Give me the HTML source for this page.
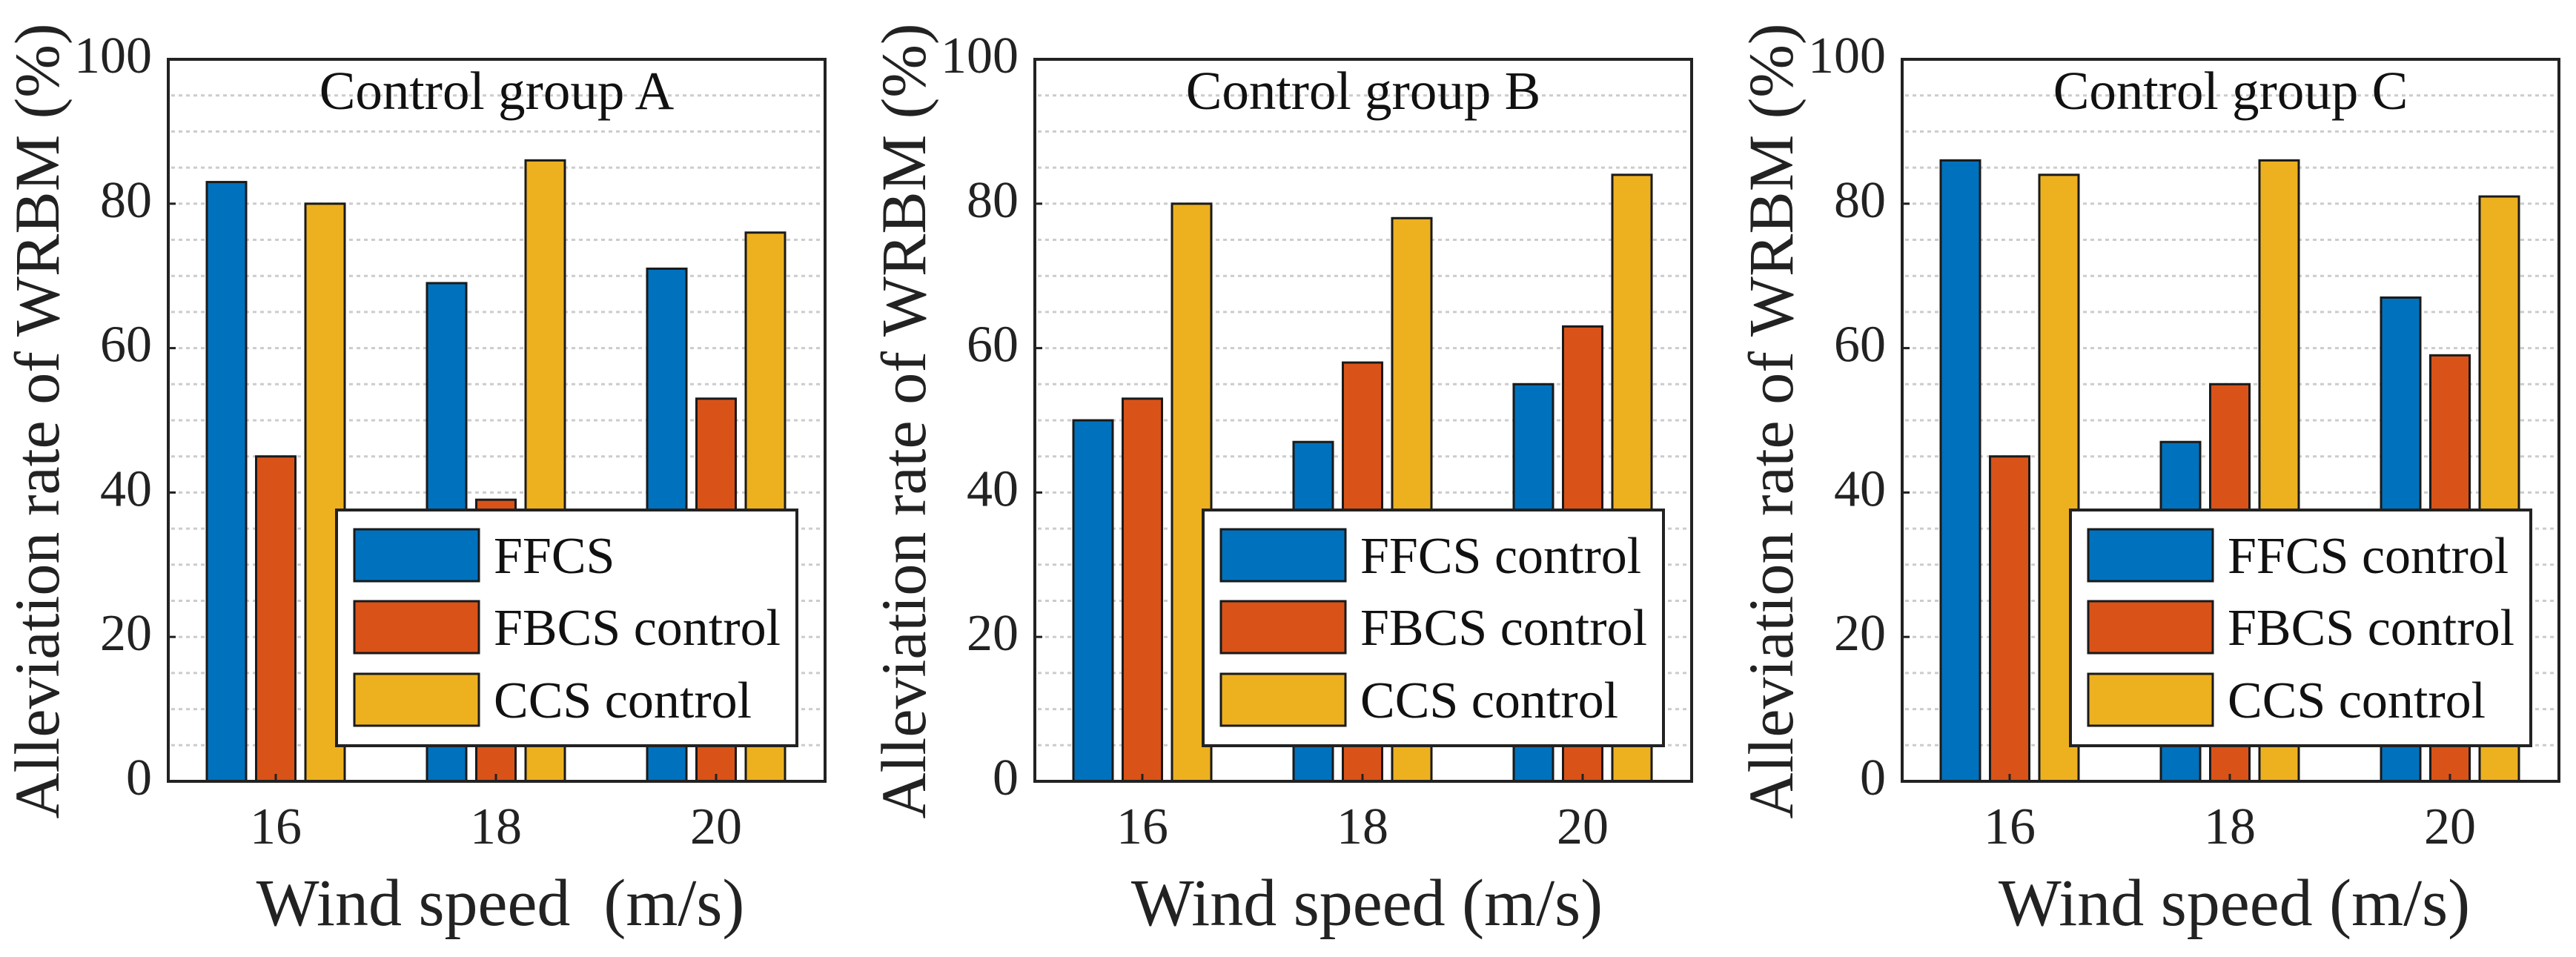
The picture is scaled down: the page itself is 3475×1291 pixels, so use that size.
<!DOCTYPE html>
<html><head><meta charset="utf-8"><style>
html,body{margin:0;padding:0;background:#fff;}
svg{display:block;font-family:"Liberation Serif",serif;}
</style></head><body>
<svg id="chart" width="3475" height="1291" viewBox="0 0 3475 1291" xmlns="http://www.w3.org/2000/svg"></svg>
<script>
const categories = ["16", "18", "20"];
const seriesNames = ["FFCS", "FBCS", "CCS"];
const panelTitles = ["Control group A", "Control group B", "Control group C"];
const legendLabelsA = ["FFCS", "FBCS control", "CCS control"];
const legendLabelsB = ["FFCS control", "FBCS control", "CCS control"];
const legendLabelsC = ["FFCS control", "FBCS control", "CCS control"];
const ffcsA = [83, 69, 71];
const fbcsA = [45, 39, 53];
const ccsA = [80, 86, 76];
const ffcsB = [50, 47, 55];
const fbcsB = [53, 58, 63];
const ccsB = [80, 78, 84];
const ffcsC = [86, 47, 67];
const fbcsC = [45, 55, 59];
const ccsC = [84, 86, 81];
const yTicks = [0, 20, 40, 60, 80, 100];
const xLabels = ["Wind speed  (m/s)", "Wind speed (m/s)", "Wind speed (m/s)"];

const colors = ["#0072BD", "#D95319", "#EDB120"];
const svg = document.getElementById('chart');
const NS = "http://www.w3.org/2000/svg";
function mk(tag, attrs, parent) {
  const e = document.createElementNS(NS, tag);
  for (const k in attrs) e.setAttribute(k, attrs[k]);
  (parent || svg).appendChild(e);
  return e;
}
const panels = [
  {left: 227, data: [ffcsA, fbcsA, ccsA], legend: legendLabelsA},
  {left: 1396, data: [ffcsB, fbcsB, ccsB], legend: legendLabelsB},
  {left: 2566, data: [ffcsC, fbcsC, ccsC], legend: legendLabelsC}
];
const W = 886, TOP = 80, BOT = 1054;
const yMin = 0, yMax = 100;
function yScale(v) { return BOT - (v - yMin) / (yMax - yMin) * (BOT - TOP); }
const catStep = 297, catOff = 145;
function xScale(i, left) { return left + catOff + i * catStep; }
const barW = 53, barStep = 66.5;

panels.forEach((p, pi) => {
  const L = p.left, R = L + W;
  const g = mk('g', {});
  
  
  for (let v = 5; v < 100; v += 5) {
    const ln = mk('line', {x1: L + 4, x2: R - 4, y1: yScale(v), y2: yScale(v), stroke: '#cccccc', 'stroke-width': 3, 'stroke-dasharray': '5 5'}, g);
    
    
  }
  for (let s = 0; s < 3; s++) {
    for (let i = 0; i < categories.length; i++) {
      const cx = xScale(i, L) + (s - 1) * barStep;
      const v = p.data[s][i];
      const r = mk('rect', {x: cx - barW / 2, y: yScale(v), width: barW, height: yScale(0) - yScale(v), fill: colors[s], stroke: '#1a1a1a', 'stroke-width': 3}, g);
      
      
    }
  }
  const t = mk('text', {x: L + W / 2, y: 147, 'font-size': 73, 'text-anchor': 'middle', fill: '#111'}, g);
  t.textContent = panelTitles[pi];
  
  
  yTicks.forEach(v => {
    const y = yScale(v);
    const tk = mk('line', {x1: L, x2: L + 10, y1: y, y2: y, stroke: '#222', 'stroke-width': 3}, g);
    
    
    const tl = mk('text', {x: L - 22, y: y + 18, 'font-size': 70, 'text-anchor': 'end', fill: '#222'}, g);
    tl.textContent = v;
    
    
  });
  categories.forEach((c, i) => {
    const x = xScale(i, L);
    const tk = mk('line', {x1: x, x2: x, y1: BOT, y2: BOT - 10, stroke: '#222', 'stroke-width': 3}, g);
    
    
    const tl = mk('text', {x: x, y: 1138, 'font-size': 70, 'text-anchor': 'middle', fill: '#222'}, g);
    tl.textContent = c;
    
    
  });
  const box = mk('rect', {x: L, y: TOP, width: W, height: BOT - TOP, fill: 'none', stroke: '#222', 'stroke-width': 4}, g);
  
  
  const lg = mk('g', {}, g);
  
  
  const lx = R - 38 - 621;
  const lb = mk('rect', {x: lx, y: 688, width: 621, height: 318, fill: '#fff', stroke: '#222', 'stroke-width': 4}, lg);
  
  
  const rowsY = [749, 846, 944];
  for (let s = 0; s < 3; s++) {
    const sw = mk('rect', {x: lx + 24, y: rowsY[s] - 35, width: 168, height: 70, fill: colors[s], stroke: '#1a1a1a', 'stroke-width': 3}, lg);
    
    
    const tx = mk('text', {x: lx + 212, y: rowsY[s] + 24, 'font-size': 70, fill: '#111'}, lg);
    tx.textContent = p.legend[s];
    
    
  }
  const xl = mk('text', {x: L + W / 2 + 5, y: 1248, 'font-size': 90, 'text-anchor': 'middle', fill: '#222', 'xml:space': 'preserve', style: 'white-space:pre'}, g);
  xl.textContent = xLabels[pi];
  
  
  const yx = L - 148, yy = 568;
  const yl = mk('text', {x: yx, y: yy, 'font-size': 86, 'text-anchor': 'middle', fill: '#222', transform: 'rotate(-90 ' + yx + ' ' + yy + ')'}, g);
  yl.textContent = 'Alleviation rate of WRBM (%)';
  
  
});
</script>
</body></html>
